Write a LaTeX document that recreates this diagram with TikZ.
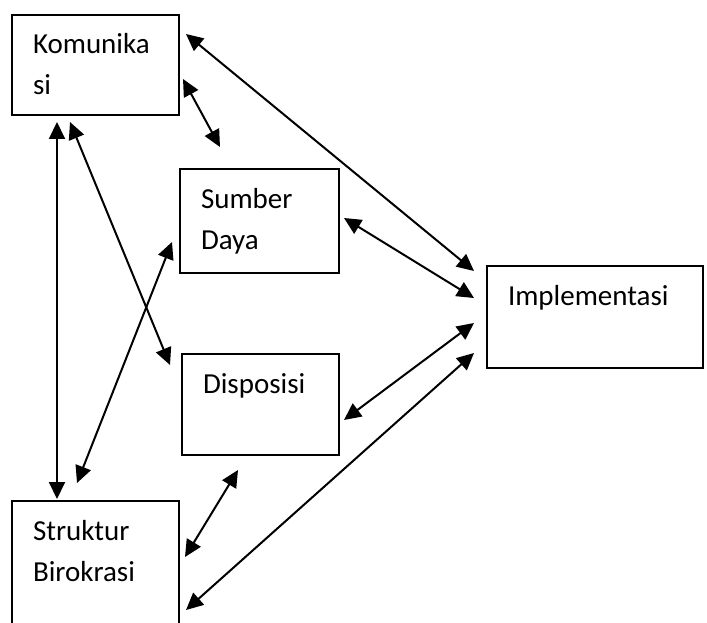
\documentclass[tikz,border=0pt]{standalone}
\usepackage{fontspec}
\setmainfont{Carlito}
\usetikzlibrary{arrows.meta}
\begin{document}
\begin{tikzpicture}[x=1pt, y=-1pt]
  \tikzstyle{box}=[draw, line width=2pt, rectangle, anchor=north west, align=left,
                   inner xsep=21pt, inner ysep=0pt, text height=39pt,
                   font=\fontsize{29}{41}\selectfont]
  \tikzstyle{edge}=[{Triangle[length=17pt, width=16pt]}-{Triangle[length=17pt, width=16pt]}, line width=2pt]

  \clip (0,0) rectangle (707,623);

  \node[box, text width=125pt, text depth=61pt] (kom) at (11,14)  {Komunika\\si};
  \node[box, text width=117pt, text depth=65pt] (sum) at (179,168) {Sumber\\Daya};
  \node[box, text width=115pt, text depth=62pt] (dis) at (181,353) {Disposisi};
  \node[box, text width=125pt, text depth=110pt] (str) at (11,500) {Struktur\\Birokrasi};
  \node[box, text width=174pt, text depth=63pt] (imp) at (486,265) {Implementasi};

  \coordinate (k1) at (186,34);  \coordinate (i1) at (474,271);
  \coordinate (k2) at (183,79);  \coordinate (s2) at (220,147);
  \coordinate (k3) at (57,122);  \coordinate (t3) at (57,499);
  \coordinate (k4) at (70,122);  \coordinate (d4) at (170,365);
  \coordinate (s5) at (172,242); \coordinate (t5) at (77,483);
  \coordinate (s6) at (344,218); \coordinate (i6) at (474,298);
  \coordinate (d7) at (344,420); \coordinate (i7) at (474,323);
  \coordinate (d8) at (238,470); \coordinate (t8) at (185,557);
  \coordinate (t9) at (186,610); \coordinate (i9) at (474,353);

  \path[edge] (k1) edge (i1);
  \path[edge] (k2) edge (s2);
  \path[edge] (k3) edge (t3);
  \path[edge] (k4) edge (d4);
  \path[edge] (s5) edge (t5);
  \path[edge] (s6) edge (i6);
  \path[edge] (d7) edge (i7);
  \path[edge] (d8) edge (t8);
  \path[edge] (t9) edge (i9);
\end{tikzpicture}
\end{document}
